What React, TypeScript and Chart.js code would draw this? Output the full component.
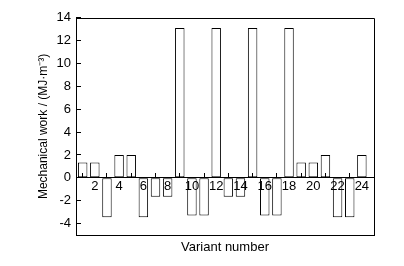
import React, { useEffect, useRef } from "react";
import { Chart, registerables } from "chart.js";

Chart.register(...registerables);

// ---- data ----
const variants = [1, 2, 3, 4, 5, 6, 7, 8, 9, 10, 11, 12, 13, 14, 15, 16, 17, 18, 19, 20, 21, 22, 23, 24];
const work = [
  1.35, 1.35, -3.45, 2.0, 2.0, -3.45, -1.65, -1.65, 13.1, -3.3, -3.3, 13.1,
  -1.65, -1.65, 13.1, -3.3, -3.3, 13.1, 1.35, 1.35, 2.0, -3.45, -3.45, 2.0,
];
const xMin = 0.45;
const xMax = 25;
const yMin = -5;
const yMax = 14;
const xStep = 2;
const yStep = 2;
const yTitle = "Mechanical work / (MJ·m⁻³)";
const xTitle = "Variant number";

const FONT = "'Liberation Sans', Arial, Helvetica, sans-serif";

export default function App() {
  const ref = useRef<HTMLCanvasElement | null>(null);

  useEffect(() => {
    if (!ref.current) return;

    const framePlugin = {
      id: "frame",
      afterDraw(chart: any) {
        const { ctx, chartArea: a } = chart;
        ctx.save();
        ctx.strokeStyle = "#000";
        ctx.lineWidth = 1;
        ctx.beginPath();
        ctx.moveTo(Math.round(a.left), Math.round(a.top) + 0.5);
        ctx.lineTo(Math.round(a.right) + 0.5, Math.round(a.top) + 0.5);
        ctx.lineTo(Math.round(a.right) + 0.5, Math.round(a.bottom) + 1);
        ctx.stroke();
        ctx.restore();
      },
    };

    const chart = new Chart(ref.current, {
      type: "bar",
      data: {
        datasets: [
          {
            data: variants.map((v, i) => ({ x: v, y: work[i] })),
            backgroundColor: "#ffffff",
            borderColor: "#000000",
            borderWidth: 1,
            borderSkipped: false,
            categoryPercentage: 1,
            barPercentage: 0.78,
            xAxisID: "x",
            yAxisID: "y",
          },
        ],
      },
      options: {
        animation: false,
        responsive: true,
        maintainAspectRatio: false,
        events: [],
        layout: { padding: { left: 0, top: 15, right: 30, bottom: 0 } },
        plugins: {
          legend: { display: false },
          tooltip: { enabled: false },
        },
        scales: {
          y: {
            type: "linear",
            position: "left",
            min: yMin,
            max: yMax,
            ticks: {
              stepSize: yStep,
              includeBounds: false,
              color: "#000",
              padding: 10,
              font: { family: FONT, size: 13 },
            },
            grid: {
              display: true,
              drawOnChartArea: false,
              drawTicks: true,
              tickLength: -5,
              color: "#000",
            },
            border: { display: true, color: "#000", width: 1 },
            title: {
              display: true,
              text: yTitle,
              color: "#000",
              font: { family: FONT, size: 12 },
              padding: { top: 36, bottom: 0 },
            },
            afterFit(scale: any) {
              scale.width = 76;
            },
          },
          x: {
            type: "linear",
            position: { y: 0 },
            min: xMin,
            max: xMax,
            offset: false,
            ticks: {
              stepSize: xStep,
              includeBounds: false,
              color: "#000",
              padding: 6,
              maxRotation: 0,
              autoSkip: false,
              font: { family: FONT, size: 13 },
              z: 1,
            },
            grid: {
              display: true,
              drawOnChartArea: false,
              drawTicks: true,
              tickLength: -5,
              color: "#000",
              z: 1,
            },
            border: { display: true, color: "#000", width: 1, z: 1 },
            afterFit(scale: any) {
              scale.height = 0;
            },
          },
          x2: {
            type: "linear",
            position: "bottom",
            min: xMin,
            max: xMax,
            ticks: { display: false },
            grid: { display: true, drawOnChartArea: false, drawTicks: false, color: "#000" },
            border: { display: true, color: "#000", width: 1 },
            title: {
              display: true,
              text: xTitle,
              color: "#000",
              font: { family: FONT, size: 13 },
              padding: { top: 0, bottom: 11 },
            },
            afterFit(scale: any) {
              scale.height = 31;
            },
          },
        },
      } as any,
      plugins: [framePlugin],
    });

    return () => chart.destroy();
  }, []);

  return (
    <div style={{ position: "fixed", left: 0, top: 0, width: 404, height: 266, background: "#fff" }}>
      <canvas ref={ref} />
    </div>
  );
}
